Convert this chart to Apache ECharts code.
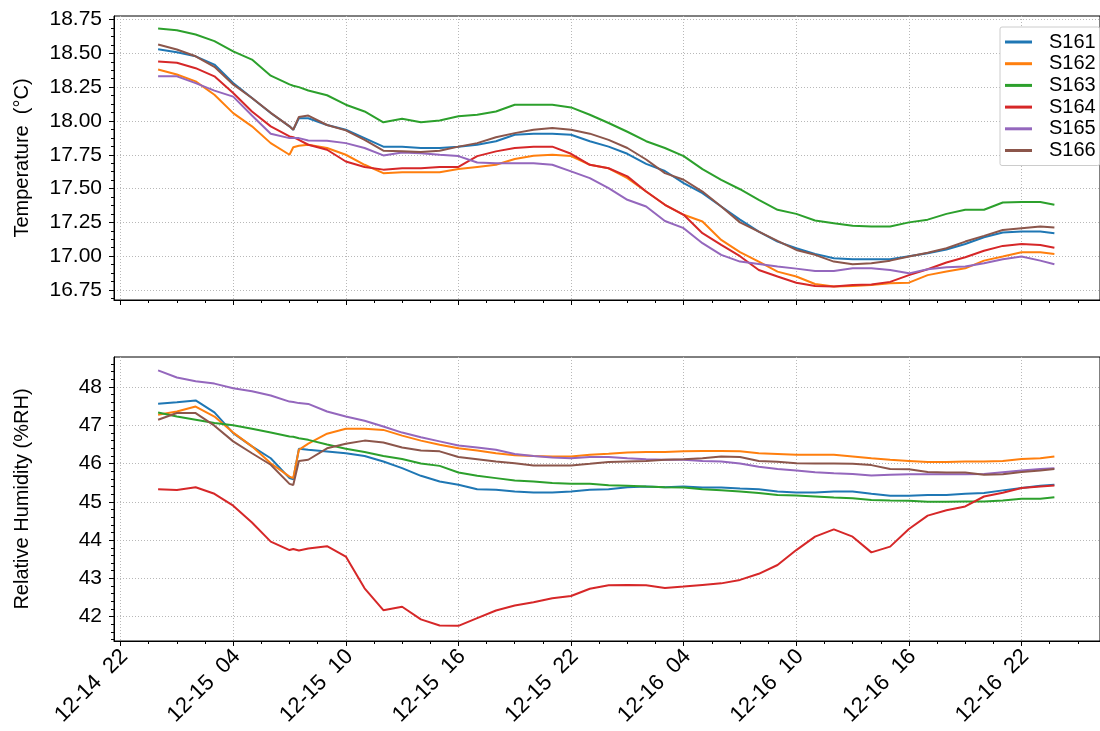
<!DOCTYPE html>
<html><head><meta charset="utf-8">
<script src="https://cdn.jsdelivr.net/npm/echarts@6/dist/echarts.min.js"></script>
<style>html,body{margin:0;padding:0;background:#fff}#c{width:1100px;height:731px}</style>
</head><body><div id="c"></div>
<script>
// hours since 12-15 00:00
const hours = [0,1,2,3,4,5,6,7,7.2,7.5,8,9,10,11,12,13,14,15,16,17,18,19,20,21,22,23,24,25,26,27,28,29,30,31,32,33,34,35,36,37,38,39,40,41,42,43,44,45,46,47,47.75];
const names = ['S161','S162','S163','S164','S165','S166'];
const colors = ['#1f77b4','#ff7f0e','#2ca02c','#d62728','#9467bd','#8c564b'];

const temp_S161 = [18.53,18.508,18.478,18.417,18.28,18.17,18.059,17.96,17.935,18.02,18.02,17.97,17.935,17.873,17.81,17.81,17.80,17.80,17.81,17.824,17.85,17.898,17.906,17.906,17.898,17.85,17.81,17.757,17.683,17.63,17.54,17.466,17.367,17.27,17.182,17.108,17.059,17.017,16.985,16.977,16.977,16.977,17.0,17.022,17.05,17.09,17.14,17.175,17.182,17.182,17.17];
const temp_S162 = [18.38,18.343,18.293,18.194,18.058,17.96,17.836,17.75,17.806,17.816,17.824,17.80,17.75,17.676,17.614,17.62,17.62,17.62,17.644,17.66,17.676,17.718,17.743,17.75,17.74,17.676,17.65,17.577,17.478,17.38,17.306,17.256,17.12,17.03,16.96,16.886,16.85,16.794,16.775,16.78,16.787,16.80,16.804,16.86,16.886,16.91,16.967,16.997,17.029,17.029,17.017];
const temp_S163 = [18.683,18.671,18.639,18.59,18.515,18.454,18.335,18.27,18.26,18.25,18.225,18.19,18.12,18.07,17.99,18.017,17.99,18.004,18.034,18.046,18.07,18.12,18.12,18.12,18.10,18.046,17.985,17.92,17.85,17.80,17.74,17.644,17.565,17.495,17.417,17.343,17.313,17.264,17.244,17.225,17.22,17.22,17.25,17.27,17.313,17.343,17.343,17.397,17.40,17.40,17.38];
const temp_S164 = [18.44,18.43,18.39,18.33,18.207,18.07,17.96,17.886,17.88,17.86,17.824,17.787,17.70,17.66,17.64,17.65,17.65,17.66,17.66,17.74,17.775,17.80,17.81,17.81,17.757,17.676,17.65,17.59,17.478,17.38,17.306,17.17,17.083,17.0,16.898,16.85,16.804,16.78,16.775,16.787,16.79,16.81,16.86,16.903,16.953,16.992,17.04,17.076,17.09,17.083,17.063];
const temp_S165 = [18.33,18.33,18.28,18.224,18.18,18.04,17.905,17.873,17.873,17.873,17.856,17.854,17.836,17.80,17.745,17.767,17.762,17.75,17.74,17.693,17.688,17.688,17.688,17.676,17.627,17.577,17.503,17.417,17.367,17.26,17.207,17.096,17.01,16.96,16.943,16.923,16.908,16.89,16.89,16.91,16.91,16.898,16.873,16.903,16.918,16.923,16.948,16.977,16.997,16.967,16.94];
const temp_S166 = [18.565,18.528,18.478,18.40,18.27,18.17,18.06,17.96,17.935,18.03,18.04,17.97,17.93,17.86,17.78,17.775,17.77,17.78,17.81,17.836,17.88,17.91,17.935,17.948,17.935,17.906,17.86,17.80,17.715,17.614,17.565,17.478,17.367,17.25,17.182,17.113,17.046,17.01,16.96,16.94,16.948,16.967,16.997,17.026,17.059,17.108,17.15,17.194,17.207,17.22,17.212];

const rh_S161 = [47.564,47.6,47.65,47.34,46.796,46.45,46.14,45.62,45.59,46.386,46.36,46.317,46.27,46.2,46.055,45.88,45.68,45.53,45.445,45.33,45.314,45.27,45.244,45.244,45.27,45.314,45.33,45.384,45.4,45.384,45.4,45.375,45.375,45.35,45.33,45.27,45.244,45.244,45.27,45.27,45.21,45.157,45.157,45.18,45.18,45.21,45.23,45.3,45.36,45.42,45.445];
const rh_S162 = [47.276,47.36,47.49,47.23,46.81,46.45,46.01,45.66,45.62,46.36,46.52,46.78,46.91,46.91,46.88,46.73,46.6,46.49,46.4,46.34,46.27,46.22,46.2,46.186,46.186,46.23,46.256,46.29,46.3,46.3,46.32,46.33,46.33,46.32,46.27,46.25,46.23,46.23,46.23,46.186,46.14,46.1,46.07,46.04,46.04,46.055,46.055,46.07,46.12,46.14,46.186];
const rh_S163 = [47.337,47.23,47.145,47.058,47.0,46.91,46.81,46.71,46.7,46.66,46.62,46.5,46.39,46.3,46.2,46.12,46.0,45.94,45.767,45.68,45.62,45.56,45.53,45.49,45.47,45.47,45.436,45.42,45.4,45.384,45.375,45.33,45.3,45.27,45.23,45.18,45.165,45.14,45.113,45.096,45.05,45.035,45.026,45.0,45.0,45.01,45.01,45.035,45.08,45.08,45.12];
const rh_S164 = [45.33,45.31,45.38,45.21,44.9,44.46,43.96,43.74,43.77,43.73,43.78,43.84,43.57,42.74,42.17,42.26,41.93,41.77,41.76,41.96,42.16,42.29,42.375,42.48,42.54,42.73,42.82,42.83,42.82,42.75,42.785,42.83,42.87,42.96,43.12,43.35,43.74,44.09,44.28,44.09,43.68,43.83,44.29,44.64,44.78,44.88,45.14,45.24,45.36,45.4,45.43];
const rh_S165 = [48.436,48.25,48.15,48.09,47.97,47.89,47.78,47.62,47.61,47.58,47.56,47.36,47.23,47.12,46.97,46.81,46.69,46.58,46.47,46.42,46.36,46.25,46.2,46.16,46.14,46.17,46.17,46.14,46.116,46.1,46.1,46.07,46.055,46.0,45.92,45.86,45.82,45.776,45.75,45.73,45.69,45.706,45.72,45.72,45.72,45.72,45.73,45.776,45.82,45.86,45.88];
const rh_S166 = [47.145,47.32,47.32,46.99,46.58,46.27,45.97,45.47,45.44,46.07,46.1,46.4,46.52,46.6,46.55,46.42,46.34,46.32,46.17,46.116,46.055,46.01,45.95,45.95,45.95,45.994,46.04,46.055,46.07,46.1,46.116,46.14,46.186,46.17,46.07,46.05,46.01,46.0,46.0,45.994,45.96,45.86,45.85,45.78,45.77,45.77,45.71,45.72,45.78,45.82,45.86];

const tempSeries = [temp_S161,temp_S162,temp_S163,temp_S164,temp_S165,temp_S166];
const rhSeries = [rh_S161,rh_S162,rh_S163,rh_S164,rh_S165,rh_S166];

const tempTicks = [16.75,17.00,17.25,17.50,17.75,18.00,18.25,18.50,18.75];
const rhTicks = [42,43,44,45,46,47,48];
const timeTicks = [-2,4,10,16,22,28,34,40,46];
const timeTickLabels = ['12-14  22','12-15  04','12-15  10','12-15  16','12-15  22','12-16  04','12-16  10','12-16  16','12-16  22'];

const FONT = "'Liberation Sans', Arial, sans-serif";
const xMin = -2.35, xMax = 50.18;
const tMin = 16.676, tMax = 18.776;
const rMin = 41.364, rMax = 48.785;
const labelShift = 0.2; // rotated labels sit slightly right of their tick, as in the reference
const timeLabelAnchors = timeTicks.map(t => t + labelShift);

function minorBetween(majors, step, lo, hi) {
  const out = [];
  const base = majors[0];
  for (let k = -20; k < 400; k++) {
    const v = +(base + k * step).toFixed(6);
    if (v < lo || v > hi) continue;
    if (majors.some(m => Math.abs(m - v) < 1e-6)) continue;
    out.push(v);
  }
  return out;
}
const timeMinor = minorBetween(timeTicks, 1.5, xMin, xMax);
const tempMinor = minorBetween(tempTicks, 0.0625, tMin, tMax);
const rhMinor = minorBetween(rhTicks, 0.2, rMin, rMax);

const gridLine = {show: true, lineStyle: {color: '#b8b8b8', width: 1, type: [1, 2]}};
const blackLine = {color: '#000', width: 1};

function labelFor(v) {
  let best = 0, bd = Infinity;
  timeTicks.forEach((t, i) => { const d = Math.abs(t + labelShift - v); if (d < bd) { bd = d; best = i; } });
  return timeTickLabels[best];
}

function majorX(grid, withLabels) {
  return {
    type: 'value', gridIndex: grid, min: xMin, max: xMax, position: 'bottom',
    axisLine: {show: true, onZero: false, lineStyle: blackLine},
    axisTick: {show: true, customValues: timeTicks, length: 5, lineStyle: blackLine},
    axisLabel: withLabels ? {
      show: true, customValues: timeLabelAnchors, rotate: 45, margin: 12,
      fontSize: 22, fontFamily: FONT, color: '#000',
      formatter: v => labelFor(v)
    } : {show: false},
    splitLine: gridLine
  };
}
function minorX(grid) {
  return {
    type: 'value', gridIndex: grid, min: xMin, max: xMax, position: 'bottom',
    axisLine: {show: false, onZero: false}, axisLabel: {show: false}, splitLine: {show: false},
    axisTick: {show: true, customValues: timeMinor, length: 3, lineStyle: blackLine}
  };
}
function majorY(grid, lo, hi, ticks, fmt, name) {
  return {
    type: 'value', gridIndex: grid, min: lo, max: hi, position: 'left',
    name: name, nameLocation: 'middle', nameGap: 82, nameRotate: 90,
    nameTextStyle: {fontSize: 20, fontFamily: FONT, color: '#000'},
    axisLine: {show: true, onZero: false, lineStyle: blackLine},
    axisTick: {show: true, customValues: ticks, length: 5, lineStyle: blackLine},
    axisLabel: {show: true, customValues: ticks, margin: 12, fontSize: 21, fontFamily: FONT, color: '#000', formatter: fmt},
    splitLine: gridLine
  };
}
function minorY(grid, lo, hi, ticks) {
  return {
    type: 'value', gridIndex: grid, min: lo, max: hi, position: 'left',
    axisLine: {show: false, onZero: false}, axisLabel: {show: false}, splitLine: {show: false},
    axisTick: {show: true, customValues: ticks, length: 3, lineStyle: blackLine}
  };
}

const series = [];
names.forEach((n, i) => {
  series.push({
    name: n, type: 'line', xAxisIndex: 0, yAxisIndex: 0, showSymbol: false, symbol: 'none',
    color: colors[i], lineStyle: {width: 2, color: colors[i]},
    data: hours.map((h, j) => [h, tempSeries[i][j]])
  });
});
names.forEach((n, i) => {
  series.push({
    name: n, type: 'line', xAxisIndex: 2, yAxisIndex: 2, showSymbol: false, symbol: 'none',
    color: colors[i], lineStyle: {width: 2, color: colors[i]},
    data: hours.map((h, j) => [h, rhSeries[i][j]])
  });
});

const chart = echarts.init(document.getElementById('c'), null, {renderer: 'canvas'});
chart.setOption({
  animation: false,
  backgroundColor: '#fff',
  textStyle: {fontFamily: FONT},
  grid: [
    {left: 114, top: 16, width: 994, height: 284, show: true, borderColor: '#000', borderWidth: 1, backgroundColor: 'transparent'},
    {left: 114, top: 357, width: 994, height: 284, show: true, borderColor: '#000', borderWidth: 1, backgroundColor: 'transparent'}
  ],
  xAxis: [majorX(0, false), minorX(0), majorX(1, true), minorX(1)],
  yAxis: [
    majorY(0, tMin, tMax, tempTicks, v => v.toFixed(2), 'Temperature  (°C)'),
    minorY(0, tMin, tMax, tempMinor),
    majorY(1, rMin, rMax, rhTicks, v => String(Math.round(v)), 'Relative Humidity (%RH)'),
    minorY(1, rMin, rMax, rhMinor)
  ],
  legend: {
    data: names, orient: 'vertical', left: 1000, top: 27,
    padding: [5, 4, 5, 5], itemGap: 1.7, itemWidth: 27, itemHeight: 3, icon: 'rect',
    backgroundColor: '#fff', borderColor: '#cccccc', borderWidth: 1, borderRadius: 2,
    textStyle: {fontSize: 20, fontFamily: FONT, color: '#000', lineHeight: 20, padding: [0, 0, 0, 12]}
  },
  series: series
});
</script>
</body></html>
